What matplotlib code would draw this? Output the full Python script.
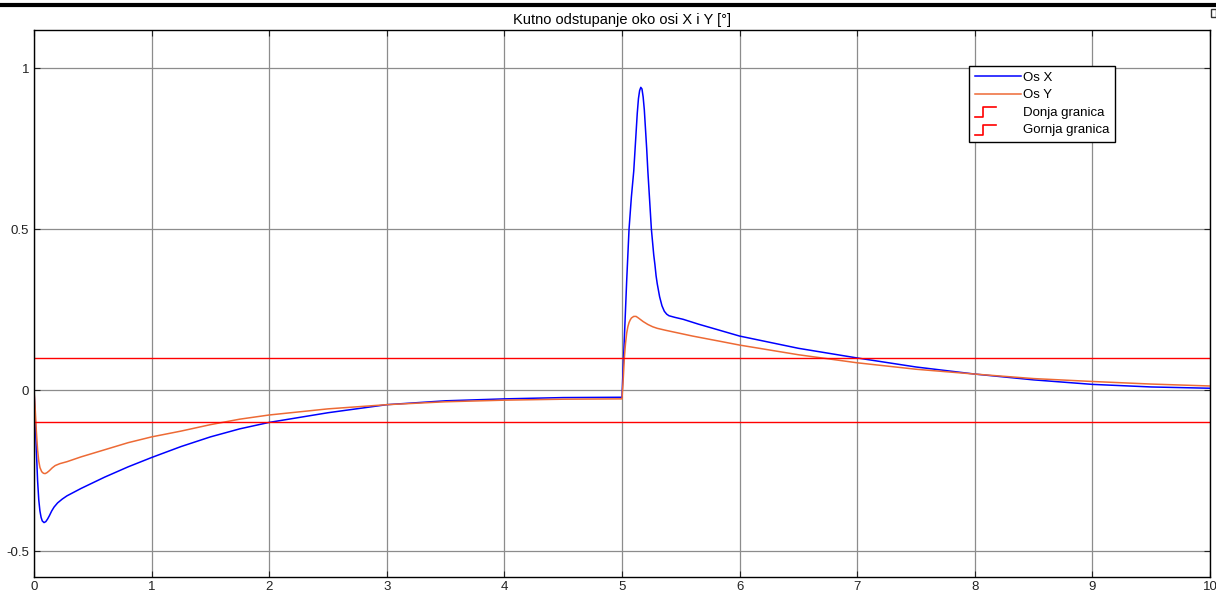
import matplotlib
matplotlib.use('Agg')
import matplotlib.pyplot as plt
from matplotlib.lines import Line2D
from matplotlib.patches import Rectangle
from matplotlib.legend_handler import HandlerBase

plt.rcParams['font.family'] = ['Liberation Sans Narrow', 'Liberation Sans', 'DejaVu Sans']

# Os X (plava)
t_x = [0, 0.01, 0.02, 0.03, 0.04, 0.05, 0.06, 0.07, 0.085, 0.1, 0.115, 0.13, 0.15, 0.17,
       0.2, 0.24, 0.28, 0.4, 0.6, 0.8, 1.0,
       1.25, 1.5, 1.75, 2.0, 2.5, 3.0, 3.5, 4.0, 4.5, 5.0,
       5.01, 5.02, 5.03, 5.04, 5.05, 5.06, 5.07, 5.08, 5.09, 5.1, 5.11, 5.12, 5.13,
       5.14, 5.15, 5.16, 5.17, 5.18, 5.19, 5.2, 5.21, 5.22, 5.23, 5.24, 5.25, 5.26,
       5.27, 5.28, 5.29, 5.3, 5.32, 5.34, 5.36, 5.38, 5.4, 5.45, 5.52, 5.65, 5.83,
       6.0, 6.5, 7.0, 7.5, 8.0, 8.5, 9.0, 9.5, 10.0]
os_x = [0, -0.09, -0.19, -0.28, -0.34, -0.375, -0.395, -0.406, -0.411, -0.408, -0.4,
        -0.39, -0.375, -0.363, -0.35, -0.338, -0.328, -0.305, -0.27, -0.238, -0.209,
        -0.175, -0.145, -0.12, -0.1, -0.07, -0.045, -0.033, -0.027, -0.023, -0.022,
        0.07, 0.16, 0.25, 0.34, 0.42, 0.5, 0.55, 0.6, 0.64, 0.68, 0.74, 0.8, 0.86,
        0.905, 0.93, 0.94, 0.935, 0.91, 0.87, 0.81, 0.75, 0.68, 0.62, 0.56, 0.5, 0.46,
        0.42, 0.39, 0.355, 0.33, 0.29, 0.262, 0.245, 0.236, 0.231, 0.226, 0.22, 0.205,
        0.186, 0.168, 0.13, 0.1, 0.072, 0.05, 0.032, 0.018, 0.01, 0.006]

# Os Y (narancasta)
t_y = [0, 0.01, 0.02, 0.03, 0.04, 0.05, 0.065, 0.08, 0.094, 0.11, 0.13, 0.155, 0.18,
       0.22, 0.28, 0.4, 0.6, 0.8, 1.0, 1.25, 1.5,
       1.75, 2.0, 2.5, 3.0, 3.5, 4.0, 4.5, 5.0,
       5.01, 5.02, 5.03, 5.04, 5.05, 5.06, 5.07, 5.08, 5.1, 5.12, 5.14, 5.18, 5.22,
       5.26, 5.3, 5.37, 5.6, 5.83, 6.0, 6.5, 7.0, 7.5, 8.0, 8.5, 9.0, 9.5, 10.0]
os_y = [0, -0.06, -0.13, -0.185, -0.22, -0.24, -0.253, -0.258, -0.259, -0.256, -0.25,
        -0.241, -0.234, -0.228, -0.222, -0.207, -0.185, -0.163, -0.145, -0.127, -0.107,
        -0.09, -0.077, -0.058, -0.045, -0.036, -0.031, -0.028, -0.027,
        0.03, 0.1, 0.145, 0.177, 0.197, 0.21, 0.218, 0.224, 0.229, 0.229, 0.224, 0.213,
        0.204, 0.197, 0.192, 0.186, 0.168, 0.152, 0.14, 0.11, 0.085, 0.065, 0.05,
        0.036, 0.027, 0.019, 0.013]

t_gr = [0, 10]
donja = [-0.1, -0.1]
gornja = [0.1, 0.1]

x_ticks = [0, 1, 2, 3, 4, 5, 6, 7, 8, 9, 10]
y_ticks = [-0.5, 0, 0.5, 1]
y_labels = ['-0.5', '0', '0.5', '1']


class StepHandler(HandlerBase):
    # ikona stepenice za granice u legendi
    def create_artists(self, legend, orig_handle, xdescent, ydescent, width, height,
                       fontsize, trans):
        x0 = -xdescent
        y0 = -ydescent
        xs = [x0, x0 + 0.18 * width, x0 + 0.18 * width, x0 + 0.45 * width]
        ys = [y0 - 0.15 * height, y0 - 0.15 * height, y0 + 0.95 * height, y0 + 0.95 * height]
        ln = Line2D(xs, ys, color=orig_handle.get_color(), lw=1.2, transform=trans)
        return [ln]


fig = plt.figure(figsize=(12.16, 5.92), dpi=100)
ax = fig.add_axes([0.028, 0.0253, 0.967, 0.924])

ax.plot(t_x, os_x, color='#0000ff', lw=1.1, label='Os X')
ax.plot(t_y, os_y, color='#ed6a35', lw=1.1, label='Os Y')
l1, = ax.plot(t_gr, donja, color='#ff0000', lw=1.0, label='Donja granica')
l2, = ax.plot(t_gr, gornja, color='#ff0000', lw=1.0, label='Gornja granica')

ax.set_xlim(0, 10)
ax.set_ylim(-0.58, 1.118)
ax.set_xticks(x_ticks)
ax.set_yticks(y_ticks)
ax.set_yticklabels(y_labels)
ax.grid(True, color='#8c8c8c', lw=0.9)
ax.tick_params(direction='in', length=4, labelsize=9.5, colors='#222222',
               top=True, right=True)
ax.tick_params(axis='x', pad=3)
for s in ax.spines.values():
    s.set_linewidth(1.0)
    s.set_color('black')

ax.set_title('Kutno odstupanje oko osi X i Y [°]', fontsize=10.5, pad=4)

leg = ax.legend(handler_map={l1: StepHandler(), l2: StepHandler()},
                loc='upper left', bbox_to_anchor=(0.795, 0.935), fontsize=9.5,
                fancybox=False, framealpha=1, edgecolor='black',
                handlelength=3.5, handletextpad=0.15, labelspacing=0.4,
                borderpad=0.45, borderaxespad=0)
leg.get_frame().set_linewidth(1.0)

# crna linija na vrhu slike i mala ikona u kutu
fig.add_artist(Line2D([0, 1], [0.992, 0.992], color='black', lw=3))
fig.add_artist(Rectangle((0.9955, 0.972), 0.0045, 0.013, transform=fig.transFigure,
                         fill=False, edgecolor='#333333', lw=1))

fig.savefig('out.png', dpi=100)
